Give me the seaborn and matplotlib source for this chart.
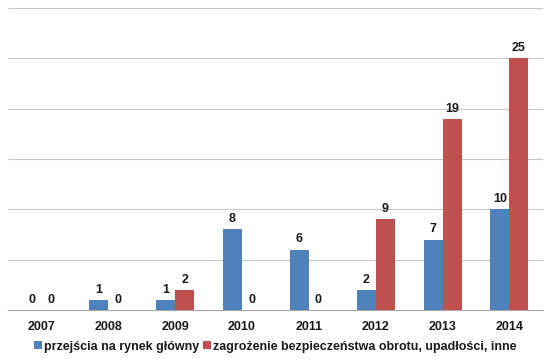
import matplotlib
matplotlib.use("Agg")
import matplotlib.pyplot as plt
import seaborn as sns
import pandas as pd
import numpy as np

years = ["2007", "2008", "2009", "2010", "2011", "2012", "2013", "2014"]
series_names = ["przejścia na rynek główny", "zagrożenie bezpieczeństwa obrotu, upadłości, inne"]
blue_vals = [0, 1, 1, 8, 6, 2, 7, 10]
red_vals = [0, 0, 2, 0, 0, 9, 19, 25]
colors = ["#4F81BD", "#C0504D"]

df = pd.DataFrame({
    "year": years * 2,
    "value": blue_vals + red_vals,
    "series": [series_names[0]] * len(years) + [series_names[1]] * len(years),
})

sns.set_theme(style="white")
plt.rcParams['font.family'] = ['Liberation Sans', 'DejaVu Sans']

fig = plt.figure(figsize=(5.5, 3.59), dpi=100)
ax = fig.add_axes([0.0145, 0.1365, 0.9725, 0.8415])

sns.barplot(data=df, x="year", y="value", hue="series", palette=colors,
            width=0.57, ax=ax, saturation=1, edgecolor="none")

for cont in ax.containers:
    ax.bar_label(cont, fmt="%d", padding=3, fontsize=9, fontweight="bold", color="#1a1a1a")

ax.set_ylim(0, 30)
ax.set_xlim(-0.5, 7.5)
ax.set_yticks([5, 10, 15, 20, 25, 30])
ax.set_yticklabels([])
ax.tick_params(axis="y", length=0)
ax.grid(axis="y", color="#C8C8C8", linewidth=0.8)
ax.set_axisbelow(True)
for s in ["top", "right", "left"]:
    ax.spines[s].set_visible(False)
ax.spines["bottom"].set_color("#A6A6A6")
ax.spines["bottom"].set_linewidth(0.8)

ax.set_xlabel("")
ax.set_ylabel("")
ax.set_xticks(range(len(years)))
ax.set_xticklabels(years, fontsize=9, fontweight="bold", color="#1a1a1a")
ax.tick_params(axis="x", which="major", length=0, pad=8)
ax.set_xticks(np.arange(-0.5, 8.0, 1.0), minor=True)
ax.tick_params(axis="x", which="minor", length=4, color="#A6A6A6", width=0.8)

leg = ax.legend(loc="upper center", bbox_to_anchor=(0.5, -0.085), ncol=2, frameon=False,
                fontsize=9, handlelength=0.6, handleheight=0.6, handletextpad=0.2,
                columnspacing=0.3, borderaxespad=0)
for t in leg.get_texts():
    t.set_fontweight("bold")
    t.set_color("#1a1a1a")

fig.savefig("out.png", dpi=100)
